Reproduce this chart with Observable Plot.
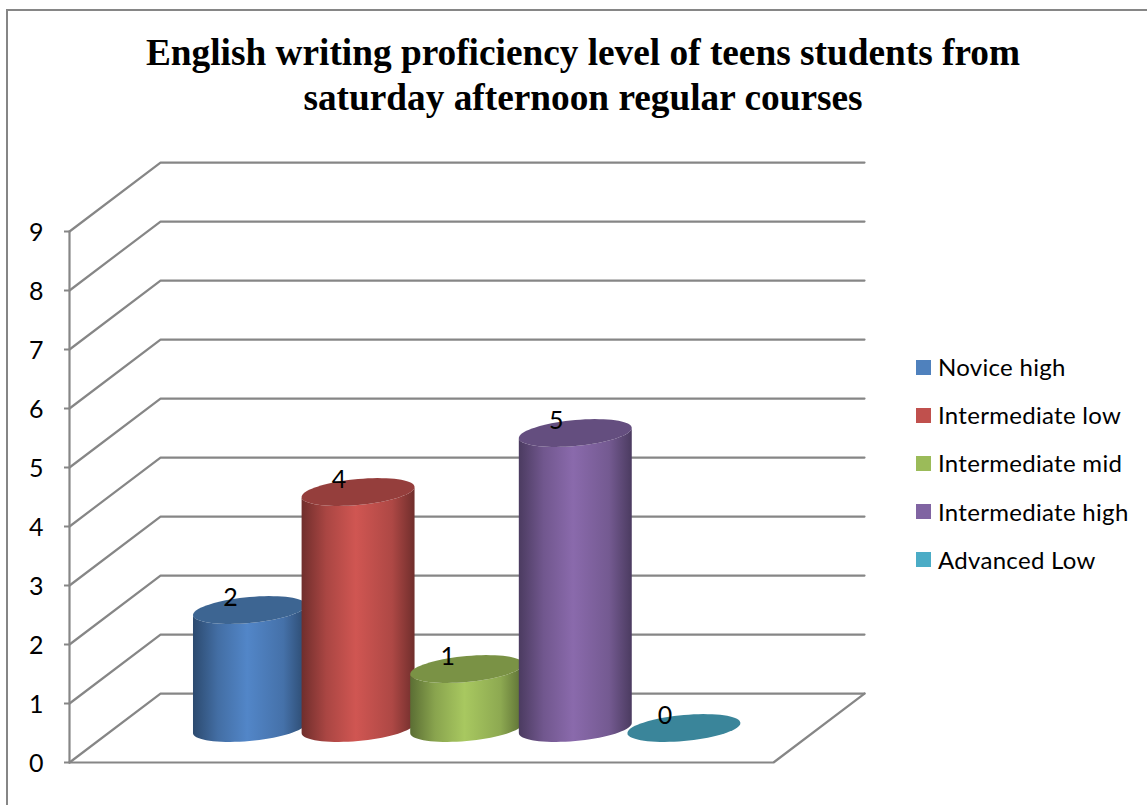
<!DOCTYPE html>
<html>
<head>
<meta charset="utf-8">
<script src="https://cdn.jsdelivr.net/npm/d3@7"></script>
<script src="https://cdn.jsdelivr.net/npm/@observablehq/plot@0.6"></script>
<style>
  html, body { margin: 0; padding: 0; background: #fff; overflow: hidden; }
  #page { position: relative; width: 1147px; height: 805px; overflow: hidden; }
  #frame { position: absolute; left: 6px; top: 9px; width: 1200px; height: 830px; border: 2px solid #868686; }
  #chart { position: absolute; left: 0; top: 0; }
  #chart svg { display: block; }
  #title { position: absolute; left: 19px; width: 1128px; top: 30px; text-align: center; font: bold 37.3px/45px "Liberation Serif", serif; color: #000; }
  #legend { position: absolute; left: 916px; top: 343px; font: 24px/48.2px Lato, sans-serif; letter-spacing: 0.3px; color: #000; white-space: nowrap; }
  #legend .row { display: flex; align-items: center; height: 48.2px; }
  #legend .sw { width: 15px; height: 15px; margin-right: 7px; flex: none; }
</style>
</head>
<body>
<div id="page">
  <div id="frame"></div>
  <div id="chart"></div>
  <div id="title"></div>
  <div id="legend"></div>
</div>
<script>
const titleLines = ["English writing proficiency level of teens students from", "saturday afternoon regular courses"];
const categories = ["Novice high", "Intermediate low", "Intermediate mid", "Intermediate high", "Advanced Low"];
const values = [2, 4, 1, 5, 0];
const yTicks = [0, 1, 2, 3, 4, 5, 6, 7, 8, 9];
const swatch = ["#4f81bd", "#c0504d", "#9bbb59", "#8064a2", "#4bacc6"];
const bright = ["#5286c8", "#d05652", "#a8c860", "#8a6aac", "#4bacc6"];
const edge   = ["#2c4a6f", "#702e2c", "#5b6e34", "#4b3b60", "#2c6575"];
const topCap = ["#3d6592", "#953e3c", "#7a9245", "#644e7f", "#3a859a"];

// Oblique projection of the floor, in data units
const wallLeft = -1.238, wallRight = 5.244;   // x extent of the front edge
const depthX = 0.838, depthY = 1.169;         // offset of the back wall
const midX = depthX / 2, midY = depthY / 2;   // cylinders stand mid-depth
const radiusX = 0.52, radiusY = 0.22, tilt = 0.085;

const angles = d3.range(0, 361, 5).map(d => d * Math.PI / 180);
const lower = d3.range(180, -1, -5).map(d => d * Math.PI / 180);
const cap = (i, v) => angles.map(t => ({
  x: i + midX + radiusX * Math.cos(t),
  y: v + midY + radiusY * Math.sin(t) + tilt * Math.cos(t)
}));
const arc = (i, v, ts) => ts.map(t => ({
  x: i + midX + radiusX * Math.cos(t),
  y: v + midY - radiusY * Math.sin(t) + tilt * Math.cos(t)
}));
const body = (i, v) => [...arc(i, 0, lower), ...arc(i, v, lower.slice().reverse())];

const gridColor = "#868686";
const wallLines = yTicks.map(v => [
  {x: wallLeft, y: v},
  {x: wallLeft + depthX, y: v + depthY},
  {x: wallRight + depthX, y: v + depthY}
]);
const floorEdge = [
  {x: wallLeft, y: 0},
  {x: wallRight, y: 0},
  {x: wallRight + depthX, y: depthY}
];
const wallEdge = [{x: wallLeft, y: 0}, {x: wallLeft, y: yTicks[yTicks.length - 1]}];

const gradients = () => {
  const defs = d3.create("svg:defs");
  categories.forEach((c, i) => {
    const g = defs.append("linearGradient").attr("id", `cyl${i}`)
      .attr("x1", 0).attr("x2", 1).attr("y1", 0).attr("y2", 0);
    g.append("stop").attr("offset", "0%").attr("stop-color", edge[i]);
    g.append("stop").attr("offset", "22%").attr("stop-color", d3.interpolateRgb(edge[i], bright[i])(0.6));
    g.append("stop").attr("offset", "48%").attr("stop-color", bright[i]);
    g.append("stop").attr("offset", "80%").attr("stop-color", d3.interpolateRgb(edge[i], bright[i])(0.65));
    g.append("stop").attr("offset", "100%").attr("stop-color", edge[i]);
  });
  return defs.node();
};

const lineStyle = {x: "x", y: "y", stroke: gridColor, strokeWidth: 2.2, curve: "linear"};
const shape = (pts, fill) => Plot.line(pts, {x: "x", y: "y", fill, stroke: "none", curve: "linear"});

const plot = Plot.plot({
  width: 1147, height: 805,
  marginLeft: 69, marginRight: 374, marginTop: 231, marginBottom: 43,
  style: {background: "transparent", overflow: "visible"},
  x: {type: "linear", domain: [wallLeft, wallRight], axis: null},
  y: {type: "linear", domain: [0, 9]},
  marks: [
    gradients,
    ...wallLines.map(l => Plot.line(l, lineStyle)),
    Plot.line(floorEdge, lineStyle),
    Plot.line(wallEdge, lineStyle),
    Plot.axisY(yTicks, {
      anchor: "left", x: wallLeft, tickSize: 5, stroke: gridColor, strokeWidth: 2, text: null, label: null
    }),
    Plot.axisY(yTicks, {
      anchor: "left", x: wallLeft, tickSize: 0, tickPadding: 26, dy: 1.5,
      tickFormat: "d", fill: "#000", fontSize: 25, fontFamily: "Lato, sans-serif", label: null
    }),
    ...categories.flatMap((c, i) => [
      ...(values[i] > 0 ? [shape(body(i, values[i]), `url(#cyl${i})`)] : []),
      shape(cap(i, values[i]), topCap[i])
    ]),
    Plot.text(categories.map((c, i) => ({x: i + midX, y: values[i] + midY, v: values[i]})), {
      x: "x", y: "y", text: d => String(d.v), dx: -19, dy: -12.5,
      fill: "#000", fontSize: 25, fontFamily: "Lato, sans-serif"
    })
  ]
});
document.getElementById("chart").append(plot);

const t = document.getElementById("title");
titleLines.forEach(l => { const d = document.createElement("div"); d.textContent = l; t.append(d); });
const lg = document.getElementById("legend");
categories.forEach((c, i) => {
  const r = document.createElement("div"); r.className = "row";
  const s = document.createElement("span"); s.className = "sw"; s.style.background = swatch[i];
  const n = document.createElement("span"); n.textContent = c;
  r.append(s, n); lg.append(r);
});
</script>
</body>
</html>
